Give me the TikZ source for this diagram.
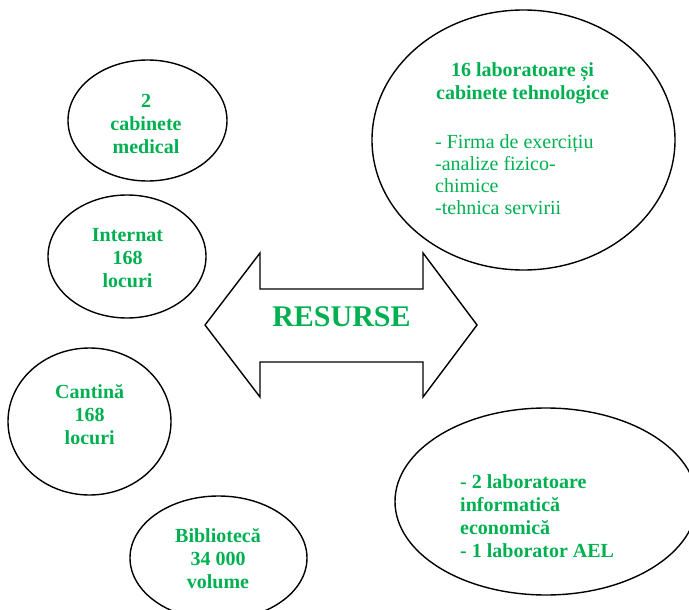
\documentclass[tikz,border=0pt]{standalone}
\usepackage{fontspec}
\setmainfont{Liberation Serif}
\usetikzlibrary{shapes.geometric}
\definecolor{resgreen}{HTML}{00B050}
\begin{document}
\begin{tikzpicture}[x=1pt,y=-1pt,
  oval/.style={draw=black,line width=1.4pt,ellipse,inner sep=0pt},
  bluetext/.style={text=resgreen,font=\fontsize{20}{23}\selectfont\bfseries,align=center,inner sep=0pt},
  plaintext/.style={text=resgreen,font=\fontsize{20}{22}\selectfont,align=left,inner sep=0pt},
  arrowoutline/.style={draw=black,line width=1.4pt,line join=miter}]
\useasboundingbox (0,0) rectangle (689,610);
\clip (0,0) rectangle (689,610);
% ellipses
\node[oval,minimum width=159pt,minimum height=121pt] (med) at (147.5,120.5) {};
\node[oval,minimum width=158pt,minimum height=123pt] (int) at (127,256.5) {};
\node[oval,minimum width=163pt,minimum height=147pt] (cant) at (89.5,421.5) {};
\node[oval,minimum width=177pt,minimum height=124pt] (bib) at (218.5,558) {};
\node[oval,minimum width=303pt,minimum height=260pt] (lab) at (523.5,140) {};
\node[oval,minimum width=302pt,minimum height=187pt] (info) at (546,501.5) {};
% texts
\node[bluetext] (medt) at (146,124) {2\\cabinete\\medical};
\node[bluetext] (intt) at (127.5,258) {Internat\\168\\locuri};
\node[bluetext] (cantt) at (89.7,415) {Cantină\\168\\locuri};
\node[bluetext] (bibt) at (218,559) {Bibliotecă\\34 000\\volume};
\node[bluetext] (labt) at (522.5,83) {16 laboratoare și\\cabinete tehnologice};
\node[plaintext,anchor=west] (labl) at (435,175) {- Firma de exercițiu\\-analize fizico-\\chimice\\-tehnica servirii};
\node[bluetext,align=left,anchor=west] (infot) at (460,516) {- 2 laboratoare\\informatică\\economică\\- 1 laborator AEL};
% double arrow
\coordinate (ltip) at (205,325);
\coordinate (rtip) at (477,325);
\draw[arrowoutline] (ltip) -- (260,253) -- (260,289) -- (423,289) -- (423,253) -- (rtip)
  -- (423,397) -- (423,362) -- (260,362) -- (260,397) -- cycle;
\node[text=resgreen,font=\fontsize{30}{34}\selectfont\bfseries,inner sep=0pt] (res) at (341.5,317) {RESURSE};
\end{tikzpicture}
\end{document}
